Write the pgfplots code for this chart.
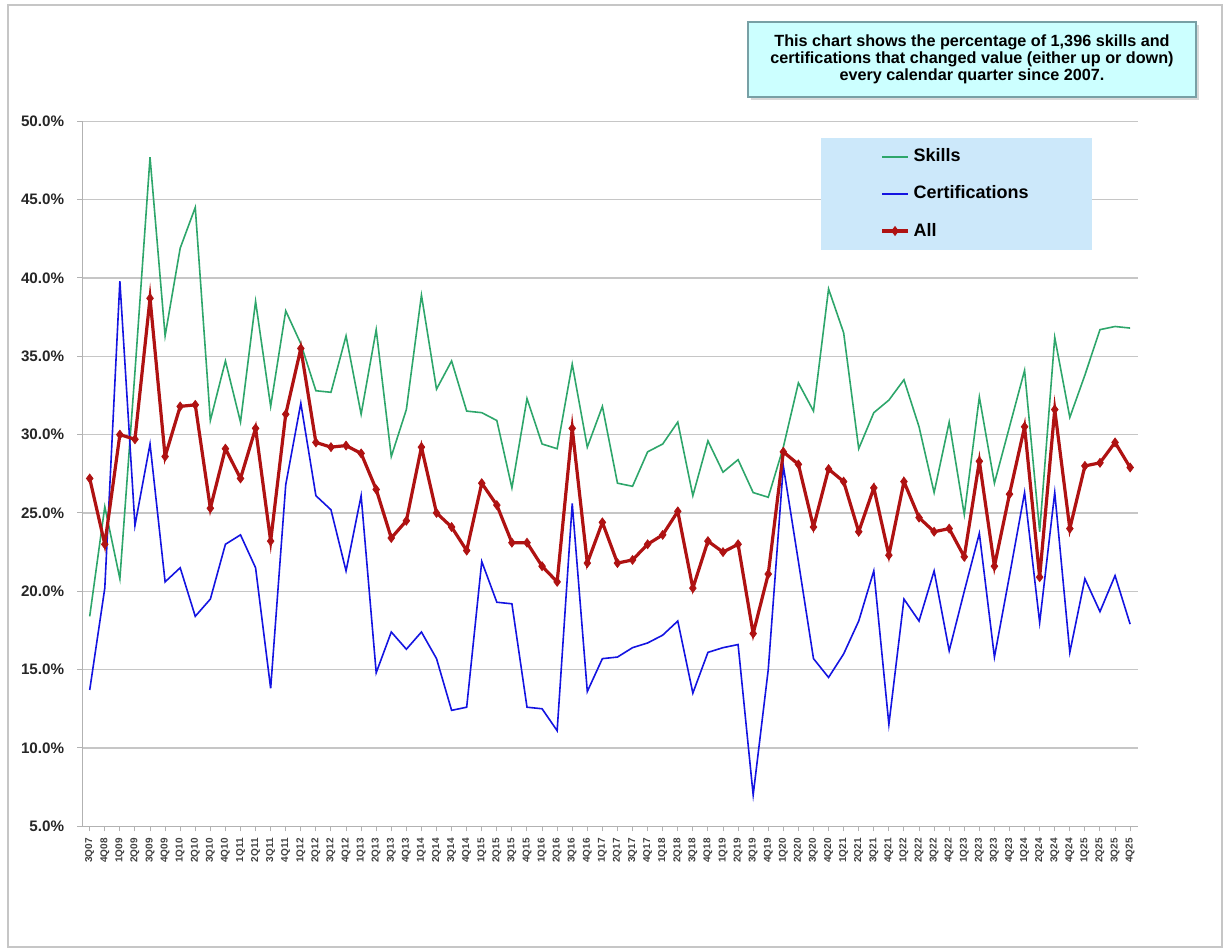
\documentclass[border=0pt]{standalone}
\usepackage{pgfplots}
\pgfplotsset{compat=1.18}
\usepackage{pgfplotstable}
\usepackage{fontspec}
\setmainfont{Liberation Sans}
\usetikzlibrary{shadows}
\definecolor{skills}{RGB}{46,166,107}
\definecolor{certs}{RGB}{20,20,225}
\definecolor{allc}{RGB}{175,18,18}
\definecolor{legfill}{RGB}{204,232,250}
\definecolor{notefill}{RGB}{204,255,255}
\definecolor{notedraw}{RGB}{120,160,165}

\pgfplotstableread{
i skills certs all
0 18.4 13.7 27.2
1 25.4 20.2 23.0
2 20.8 39.8 30.0
3 34.0 24.2 29.7
4 47.7 29.4 38.7
5 36.3 20.6 28.6
6 41.9 21.5 31.8
7 44.5 18.4 31.9
8 30.9 19.5 25.3
9 34.7 23.0 29.1
10 30.8 23.6 27.2
11 38.5 21.5 30.4
12 31.8 13.8 23.2
13 37.9 26.8 31.3
14 35.8 32.0 35.5
15 32.8 26.1 29.5
16 32.7 25.2 29.2
17 36.3 21.3 29.3
18 31.3 26.1 28.8
19 36.7 14.8 26.5
20 28.6 17.4 23.4
21 31.6 16.3 24.5
22 38.9 17.4 29.2
23 32.9 15.7 25.0
24 34.7 12.4 24.1
25 31.5 12.6 22.6
26 31.4 21.9 26.9
27 30.9 19.3 25.5
28 26.6 19.2 23.1
29 32.3 12.6 23.1
30 29.4 12.5 21.6
31 29.1 11.1 20.6
32 34.5 25.6 30.4
33 29.2 13.6 21.8
34 31.8 15.7 24.4
35 26.9 15.8 21.8
36 26.7 16.4 22.0
37 28.9 16.7 23.0
38 29.4 17.2 23.6
39 30.8 18.1 25.1
40 26.1 13.5 20.2
41 29.6 16.1 23.2
42 27.6 16.4 22.5
43 28.4 16.6 23.0
44 26.3 7.0 17.3
45 26.0 15.0 21.1
46 29.2 28.0 28.9
47 33.3 21.9 28.1
48 31.5 15.7 24.1
49 39.3 14.5 27.8
50 36.5 16.0 27.0
51 29.1 18.1 23.8
52 31.4 21.3 26.6
53 32.2 11.5 22.3
54 33.5 19.5 27.0
55 30.5 18.1 24.7
56 26.3 21.3 23.8
57 30.8 16.2 24.0
58 24.9 20.0 22.2
59 32.4 23.7 28.3
60 26.9 15.8 21.6
61 30.5 21.0 26.2
62 34.1 26.3 30.5
63 23.8 18.0 20.9
64 36.2 26.3 31.6
65 31.1 16.1 24.0
66 33.8 20.8 28.0
67 36.7 18.7 28.2
68 36.9 21.0 29.5
69 36.8 17.9 27.9
}\data

\begin{document}
\begin{tikzpicture}[x=1pt,y=1pt]
\path (0,0) rectangle (613,476);
\draw[gray!45, line width=0.8pt] (4,2.5) rectangle (611,473.5);
\begin{axis}[
  at={(54.5,80.25)}, anchor=south west,
  scale only axis, width=527.75pt, height=352.5pt,
  xmin=-0.5, xmax=69.5, ymin=5, ymax=50,
  axis x line*=bottom, axis y line*=left,
  axis line style={gray!60, line width=0.6pt},
  ymajorgrids, grid style={gray!45, line width=0.6pt},
  ytick={5,10,...,50},
  yticklabel={\pgfmathprintnumber[fixed,fixed zerofill,precision=1]{\tick}\%},
  /pgf/number format/assume math mode=true,
  yticklabel style={font=\fontsize{7.6}{8}\selectfont\bfseries, xshift=-3pt, text=black!85},
  xtick={0,...,69},
  xticklabels={3Q07,4Q08,1Q09,2Q09,3Q09,4Q09,1Q10,2Q10,3Q10,4Q10,1Q11,2Q11,3Q11,4Q11,
    1Q12,2Q12,3Q12,4Q12,1Q13,2Q13,3Q13,4Q13,1Q14,2Q14,3Q14,4Q14,1Q15,2Q15,3Q15,4Q15,
    1Q16,2Q16,3Q16,4Q16,1Q17,2Q17,3Q17,4Q17,1Q18,2Q18,3Q18,4Q18,1Q19,2Q19,3Q19,4Q19,
    1Q20,2Q20,3Q20,4Q20,1Q21,2Q21,3Q21,4Q21,1Q22,2Q22,3Q22,4Q22,1Q23,2Q23,3Q23,4Q23,
    1Q24,2Q24,3Q24,4Q24,1Q25,2Q25,3Q25,4Q25},
  xticklabel style={font=\fontsize{5}{5}\selectfont\bfseries, rotate=90, anchor=east, text=black!75},
  tick align=outside, major tick length=2.5pt,
  tick style={gray!60, line width=0.5pt},
  legend cell align=left,
  legend style={at={(0.70,0.977)}, anchor=north west, fill=legfill, draw=none,
    font=\fontsize{9}{10}\selectfont\bfseries, row sep=6.5pt,
    inner xsep=29.5pt, inner ysep=3.5pt},
  legend image code/.code={\draw[mark repeat=2,mark phase=2] plot coordinates {(0pt,0pt) (6.5pt,0pt) (13pt,0pt)};},
]
\addplot[skills, line width=0.8pt] table[x=i, y=skills] {\data};
\addlegendentry{Skills}
\addplot[certs, line width=0.8pt] table[x=i, y=certs] {\data};
\addlegendentry{Certifications}
\addplot[allc, line width=1.6pt, mark=diamond*, mark size=2.2pt, mark options={line width=0.4pt}] table[x=i, y=all] {\data};
\addlegendentry{All}
\end{axis}
\node[draw=notedraw, line width=0.9pt, fill=notefill,
  drop shadow={opacity=0.3, shadow xshift=1.5pt, shadow yshift=-1.5pt},
  minimum width=224pt, minimum height=37.5pt, align=center,
  font=\fontsize{8.1}{8.5}\selectfont\bfseries, inner sep=2pt] at (486,446.25)
  {This chart shows the percentage of 1,396 skills and\\
   certifications that changed value (either up or down)\\
   every calendar quarter since 2007.};
\end{tikzpicture}
\end{document}
